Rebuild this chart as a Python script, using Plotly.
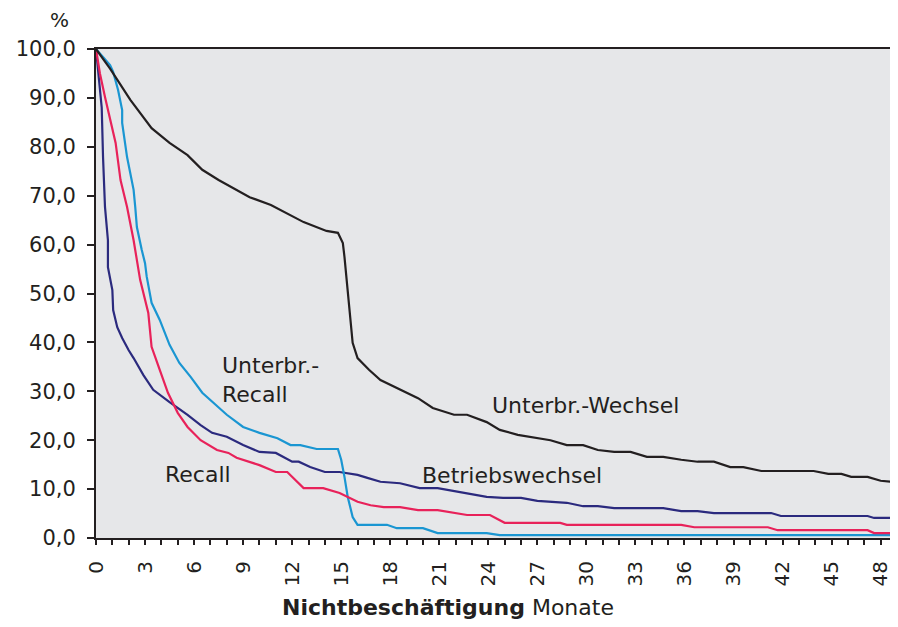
import plotly.graph_objects as go

# ── Data ──────────────────────────────────────────────────────────────────────
months_wechsel = [0, 0.86, 2.1, 3.4, 4.5, 5.6, 6.5, 7.5, 9.4, 10.7, 12.7, 14.1, 14.8, 15.1,
                  15.2, 15.4, 15.7, 16.0, 16.7, 17.4, 18.6, 19.7, 20.6, 21.9, 22.7, 23.9,
                  24.7, 25.8, 27.8, 28.8, 29.8, 30.7, 31.7, 32.7, 33.7, 34.7, 35.8, 36.8,
                  37.8, 38.8, 39.6, 40.7, 43.9, 44.8, 45.6, 46.2, 47.2, 48.0, 48.6, 49.0]
share_wechsel = [100, 96, 89.6, 83.8, 80.8, 78.3, 75.3, 73.2, 69.7, 68.1, 64.6, 62.8, 62.4,
                 60.3, 57.5, 51, 39.9, 36.8, 34.4, 32.3, 30.3, 28.6, 26.6, 25.2, 25.2, 23.7,
                 22.1, 21.1, 20.0, 19.0, 19.0, 18.0, 17.6, 17.6, 16.6, 16.6, 16.0, 15.6,
                 15.6, 14.5, 14.5, 13.7, 13.7, 13.1, 13.1, 12.5, 12.5, 11.7, 11.5, 10.8]

months_urecall = [0, 0.86, 1.05, 1.35, 1.6, 1.6, 1.9, 2.3, 2.4, 2.5, 2.8, 3.0, 3.1, 3.4,
                  3.9, 4.5, 5.1, 5.8, 6.5, 7.2, 8.0, 9.0, 10.0, 11.1, 11.9, 12.5, 13.5,
                  14.8, 15.0, 15.2, 15.4, 15.7, 16.0, 17.8, 18.4, 20.0, 20.9, 23.9, 24.7, 49]
share_urecall = [100, 96.7, 95.3, 91.6, 87.5, 84.9, 77.9, 71.2, 67.7, 63.6, 58.9, 56.2,
                 53.5, 48.1, 44.6, 39.5, 35.8, 32.9, 29.7, 27.6, 25.2, 22.7, 21.5, 20.4,
                 19.0, 19.0, 18.2, 18.2, 16.0, 12.5, 8.4, 4.3, 2.7, 2.7, 2.0, 2.0, 1.0,
                 1.0, 0.6, 0.6]

months_recall = [0, 0.24, 0.55, 0.86, 1.2, 1.5, 1.9, 2.3, 2.7, 3.2, 3.4, 3.9, 4.4, 5.0,
                 5.6, 6.4, 7.4, 8.1, 8.6, 10.0, 11.0, 11.7, 12.7, 13.9, 14.9, 16.0, 16.8,
                 17.6, 18.6, 19.7, 20.9, 22.7, 24.1, 25.0, 28.4, 28.8, 35.8, 36.6, 41.1,
                 41.7, 47.2, 47.6, 49]
share_recall = [100, 95, 90.2, 85.5, 80.8, 73.2, 67.7, 60.9, 52.8, 46.0, 39.1, 34.4, 29.7,
                25.6, 22.7, 20.0, 18.0, 17.4, 16.4, 14.9, 13.5, 13.5, 10.2, 10.2, 9.2, 7.4,
                6.7, 6.3, 6.3, 5.7, 5.7, 4.7, 4.7, 3.1, 3.1, 2.7, 2.7, 2.2, 2.2, 1.6, 1.6,
                1.0, 1.0]

months_betrieb = [0, 0.13, 0.35, 0.43, 0.55, 0.73, 0.73, 1.0, 1.05, 1.3, 1.6, 2.0, 2.3,
                  2.9, 3.5, 4.5, 5.6, 6.4, 7.1, 8.0, 9.0, 10.0, 11.0, 12.0, 12.4, 13.1,
                  14.0, 14.9, 16.0, 16.6, 17.4, 18.6, 19.8, 20.9, 22.7, 23.9, 24.9, 26.0,
                  27.0, 27.8, 28.8, 29.8, 30.7, 31.7, 34.7, 35.8, 36.8, 37.8, 41.3, 41.9,
                  47.2, 47.6, 49]
share_betrieb = [100, 95, 88, 77.9, 67.7, 60.9, 55.4, 50.7, 46.6, 43.1, 40.9, 38.4, 36.8,
                 33.3, 30.3, 27.8, 25.2, 23.1, 21.5, 20.7, 19.0, 17.6, 17.4, 15.6, 15.6,
                 14.5, 13.5, 13.5, 12.9, 12.3, 11.5, 11.2, 10.2, 10.2, 9.2, 8.4, 8.2, 8.2,
                 7.6, 7.4, 7.2, 6.5, 6.5, 6.1, 6.1, 5.5, 5.5, 5.1, 5.1, 4.5, 4.5, 4.1, 4.1]

x_ticks = list(range(0, 49, 3))
y_ticks = list(range(0, 101, 10))

_FONT = "DejaVu Sans, Arial, sans-serif"
_INK = "#231f20"
_BG = "#e6e7e9"

series = [
    (months_betrieb, share_betrieb, "Betriebswechsel", "#2b2a7e"),
    (months_urecall, share_urecall, "Unterbr.-Recall", "#1a96d2"),
    (months_recall, share_recall, "Recall", "#e8225a"),
    (months_wechsel, share_wechsel, "Unterbr.-Wechsel", _INK),
]

fig = go.Figure()
for xs, ys, name, color in series:
    fig.add_trace(go.Scatter(x=xs, y=ys, mode="lines", name=name,
                             line=dict(color=color, width=2.2)))

# in-plot series labels
labels = [
    (7.6, 32.3, "Unterbr.-<br>Recall"),
    (4.1, 12.9, "Recall"),
    (24.1, 27.0, "Unterbr.-Wechsel"),
    (19.8, 12.7, "Betriebswechsel"),
]
for x, y, text in labels:
    fig.add_annotation(x=x, y=y, text=text, showarrow=False, xanchor="left",
                       yanchor="middle", align="left",
                       font=dict(family=_FONT, size=22, color=_INK))

# unit label above the y axis, and x-axis title (sits left of centre in the original)
fig.add_annotation(x=-0.045, y=1.06, xref="paper", yref="paper", text="%",
                   xanchor="center", yanchor="middle", showarrow=False,
                   font=dict(family=_FONT, size=20, color=_INK))
fig.add_annotation(x=0.44, y=-0.143, xref="paper", yref="paper",
                   xanchor="center", yanchor="middle",
                   text="<b>Nichtbeschäftigung</b> Monate", showarrow=False,
                   font=dict(family=_FONT, size=22, color=_INK))

# page body has an 8px default margin, so the figure is sized/offset to compensate
fig.update_layout(
    width=890, height=619,
    margin=dict(l=88, r=1, t=41, b=89),
    paper_bgcolor="white",
    plot_bgcolor=_BG,
    showlegend=False,
    separators=",.",
    font=dict(family=_FONT, color=_INK),
    xaxis=dict(
        range=[0, 49], tickvals=x_ticks, ticktext=[str(v) for v in x_ticks],
        tickangle=-90, tickfont=dict(size=20), ticklabelstandoff=8,
        showgrid=False, zeroline=False, automargin=False,
        showline=True, linecolor=_INK, linewidth=2, mirror=True,
        ticks="outside", ticklen=5, tickwidth=2, tickcolor=_INK,
        minor=dict(dtick=1, ticks="outside", ticklen=5, tickwidth=2, tickcolor=_INK),
    ),
    xaxis2=dict(
        range=[0, 49], overlaying="x", anchor="y", side="bottom",
        showticklabels=False, showgrid=False, zeroline=False, showline=False,
        ticks="inside", dtick=1, tick0=0, ticklen=4, tickwidth=2, tickcolor=_INK,
    ),
    yaxis=dict(
        range=[0, 100], tickvals=y_ticks, tickformat=".1f", tickfont=dict(size=21),
        ticklabelstandoff=7,
        showgrid=False, zeroline=False, automargin=False,
        showline=True, linecolor=_INK, linewidth=2,
        ticks="outside", ticklen=7, tickwidth=2, tickcolor=_INK,
    ),
)

fig.write_html("out.html")
